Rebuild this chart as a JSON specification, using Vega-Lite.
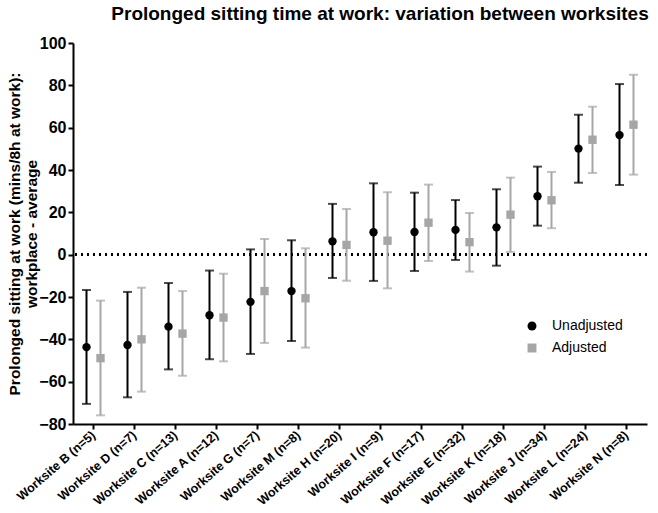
{
  "$schema": "https://vega.github.io/schema/vega-lite/v6.json",
  "width": 574,
  "height": 381,
  "autosize": "none",
  "padding": {"left": 73, "top": 43, "right": 11, "bottom": 89},
  "background": "white",
  "config": {
    "font": "Liberation Sans",
    "view": {"stroke": null},
    "axis": {"grid": false, "domainColor": "black", "tickColor": "black", "domainWidth": 2, "tickWidth": 2, "labelColor": "black", "titleColor": "black", "labelFontWeight": "bold", "titleFontWeight": "bold"}
  },
  "title": {"text": "Prolonged sitting time at work: variation between worksites", "fontSize": 19, "fontWeight": "bold", "font": "Liberation Sans", "anchor": "middle", "dx": 20, "offset": 11, "color": "black"},
  "data": {"values": [
    {"site": "Worksite B (n=5)", "series": "Unadjusted", "mean": -43.7, "lo": -70.5, "hi": -16.7},
    {"site": "Worksite B (n=5)", "series": "Adjusted", "mean": -48.9, "lo": -75.9, "hi": -21.7},
    {"site": "Worksite D (n=7)", "series": "Unadjusted", "mean": -42.7, "lo": -67.4, "hi": -17.6},
    {"site": "Worksite D (n=7)", "series": "Adjusted", "mean": -40.0, "lo": -64.7, "hi": -15.6},
    {"site": "Worksite C (n=13)", "series": "Unadjusted", "mean": -34.0, "lo": -54.2, "hi": -13.4},
    {"site": "Worksite C (n=13)", "series": "Adjusted", "mean": -37.3, "lo": -57.2, "hi": -17.2},
    {"site": "Worksite A (n=12)", "series": "Unadjusted", "mean": -28.6, "lo": -49.4, "hi": -7.5},
    {"site": "Worksite A (n=12)", "series": "Adjusted", "mean": -29.7, "lo": -50.4, "hi": -9.0},
    {"site": "Worksite G (n=7)", "series": "Unadjusted", "mean": -22.3, "lo": -46.9, "hi": 2.5},
    {"site": "Worksite G (n=7)", "series": "Adjusted", "mean": -17.2, "lo": -41.7, "hi": 7.4},
    {"site": "Worksite M (n=8)", "series": "Unadjusted", "mean": -17.2, "lo": -40.8, "hi": 6.8},
    {"site": "Worksite M (n=8)", "series": "Adjusted", "mean": -20.6, "lo": -43.9, "hi": 3.0},
    {"site": "Worksite H (n=20)", "series": "Unadjusted", "mean": 6.3, "lo": -11.0, "hi": 24.0},
    {"site": "Worksite H (n=20)", "series": "Adjusted", "mean": 4.6, "lo": -12.3, "hi": 21.6},
    {"site": "Worksite I (n=9)", "series": "Unadjusted", "mean": 10.6, "lo": -12.4, "hi": 33.7},
    {"site": "Worksite I (n=9)", "series": "Adjusted", "mean": 6.6, "lo": -15.9, "hi": 29.5},
    {"site": "Worksite F (n=17)", "series": "Unadjusted", "mean": 10.7, "lo": -7.7, "hi": 29.3},
    {"site": "Worksite F (n=17)", "series": "Adjusted", "mean": 15.1, "lo": -3.0, "hi": 33.1},
    {"site": "Worksite E (n=32)", "series": "Unadjusted", "mean": 11.7, "lo": -2.5, "hi": 25.8},
    {"site": "Worksite E (n=32)", "series": "Adjusted", "mean": 5.9, "lo": -8.0, "hi": 19.7},
    {"site": "Worksite K (n=18)", "series": "Unadjusted", "mean": 12.9, "lo": -5.2, "hi": 30.9},
    {"site": "Worksite K (n=18)", "series": "Adjusted", "mean": 18.9, "lo": 1.3, "hi": 36.4},
    {"site": "Worksite J (n=34)", "series": "Unadjusted", "mean": 27.6, "lo": 13.7, "hi": 41.6},
    {"site": "Worksite J (n=34)", "series": "Adjusted", "mean": 25.7, "lo": 12.5, "hi": 39.1},
    {"site": "Worksite L (n=24)", "series": "Unadjusted", "mean": 50.1, "lo": 34.0, "hi": 66.1},
    {"site": "Worksite L (n=24)", "series": "Adjusted", "mean": 54.3, "lo": 38.6, "hi": 69.9},
    {"site": "Worksite N (n=8)", "series": "Unadjusted", "mean": 56.5, "lo": 32.9, "hi": 80.6},
    {"site": "Worksite N (n=8)", "series": "Adjusted", "mean": 61.4, "lo": 37.8, "hi": 85.0}
  ]},
  "encoding": {
    "x": {"field": "site", "type": "nominal", "sort": null,
      "scale": {"paddingInner": 0, "paddingOuter": 0},
      "axis": {"title": null, "labelAngle": -41, "labelFontSize": 12.5, "labelAlign": "right", "labelBaseline": "middle", "tickSize": 5, "labelPadding": 4, "domainWidth": 2}},
    "xOffset": {"field": "series", "type": "nominal", "scale": {"domain": ["Unadjusted", "Adjusted"], "paddingInner": 0, "paddingOuter": 0.464}}
  },
  "layer": [
    {
      "mark": {"type": "rule", "strokeDash": [2, 4], "strokeWidth": 2, "color": "black"},
      "encoding": {"x": null, "xOffset": null, "y": {"datum": 0}}
    },
    {
      "mark": {"type": "rule", "strokeWidth": 2},
      "encoding": {
        "y": {"field": "lo", "type": "quantitative", "scale": {"domain": [-80, 100], "nice": false},
          "axis": {"title": ["Prolonged sitting at work (mins/8h at work):", "workplace - average"], "titleFontSize": 15.5, "titleX": -51, "labelFontSize": 16, "values": [-80, -60, -40, -20, 0, 20, 40, 60, 80, 100], "tickSize": 5, "labelPadding": 2}},
        "y2": {"field": "hi"},
        "stroke": {"field": "series", "type": "nominal", "scale": {"domain": ["Adjusted", "Unadjusted"], "range": ["#a6a6a6", "black"]}, "legend": null}
      }
    },
    {
      "mark": {"type": "tick", "orient": "horizontal", "size": 9, "thickness": 2},
      "encoding": {
        "y": {"field": "lo", "type": "quantitative"},
        "fill": {"field": "series", "type": "nominal", "scale": {"domain": ["Adjusted", "Unadjusted"], "range": ["#a6a6a6", "black"]}, "legend": null}
      }
    },
    {
      "mark": {"type": "tick", "orient": "horizontal", "size": 9, "thickness": 2},
      "encoding": {
        "y": {"field": "hi", "type": "quantitative"},
        "fill": {"field": "series", "type": "nominal", "legend": null}
      }
    },
    {
      "mark": {"type": "point", "filled": true, "opacity": 1, "size": 70},
      "encoding": {
        "y": {"field": "mean", "type": "quantitative"},
        "color": {"field": "series", "type": "nominal", "scale": {"domain": ["Unadjusted", "Adjusted"], "range": ["black", "#a6a6a6"]}, "legend": {"title": null, "orient": "none", "legendX": 452, "legendY": 276, "labelFontSize": 14, "labelFontWeight": "normal", "labelColor": "black", "symbolSize": 80, "rowPadding": 8, "labelOffset": 13, "padding": 0}},
        "shape": {"field": "series", "type": "nominal", "scale": {"domain": ["Unadjusted", "Adjusted"], "range": ["circle", "square"]}, "legend": {"title": null, "orient": "none", "legendX": 452, "legendY": 276, "labelFontSize": 14, "labelFontWeight": "normal", "labelColor": "black", "symbolSize": 80, "rowPadding": 8, "labelOffset": 13, "padding": 0}}
      }
    }
  ]
}
